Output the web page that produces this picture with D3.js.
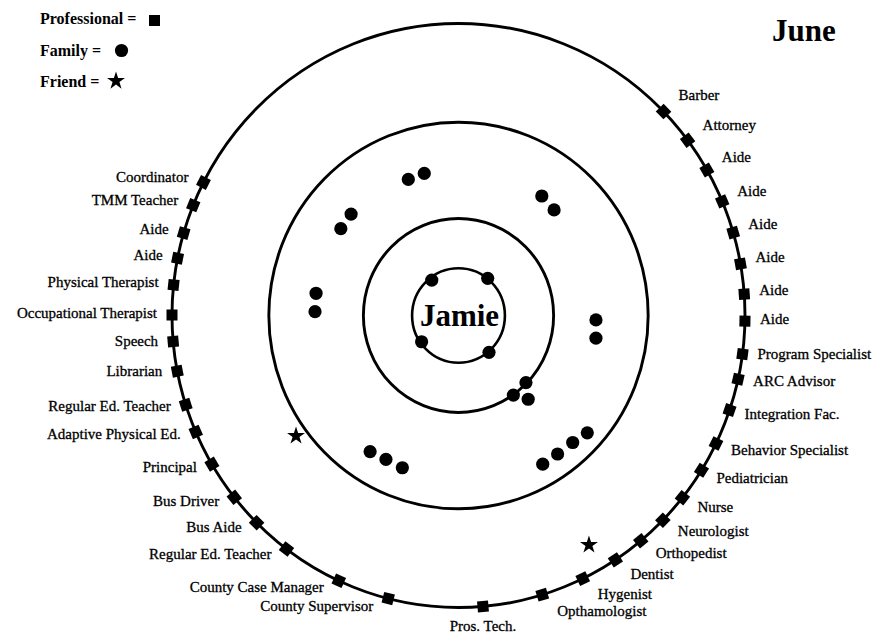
<!DOCTYPE html>
<html>
<head>
<meta charset="utf-8">
<script src="https://cdn.jsdelivr.net/npm/d3@7/dist/d3.min.js"></script>
<style>
  html, body { margin: 0; padding: 0; background: #fff; }
  svg { display: block; }
  text { font-family: "Liberation Serif", "Times New Roman", serif; fill: #000; }
</style>
</head>
<body>
<svg id="chart" width="875" height="633"></svg>
<script>
// ---------------- DATA ----------------
const title = "June";
const person = "Jamie";
const legendLabels = ["Professional =", "Family =", "Friend ="];
const ringRadii = [16.2, 33.2, 66.2, 100];

const professionalNames = [
  "Barber", "Attorney", "Aide", "Aide", "Aide", "Aide", "Aide", "Aide",
  "Program Specialist", "ARC Advisor", "Integration Fac.", "Behavior Specialist",
  "Pediatrician", "Nurse", "Neurologist", "Orthopedist", "Dentist", "Hygenist",
  "Opthamologist", "Pros. Tech.", "County Supervisor", "County Case Manager",
  "Regular Ed. Teacher", "Bus Aide", "Bus Driver", "Principal",
  "Adaptive Physical Ed.", "Regular Ed. Teacher", "Librarian", "Speech",
  "Occupational Therapist", "Physical Therapist", "Aide", "Aide",
  "TMM Teacher", "Coordinator"
];
const professionalAngles = [
  45.7, 53.1, 60.1, 67.0, 73.5, 79.8, 85.8, 91.1,
  97.6, 102.6, 108.9, 116.0,
  122.0, 128.6, 134.5, 140.5, 146.8, 154.3,
  163.0, 175.1, 194.2, 204.7,
  216.9, 224.8, 231.5, 239.4,
  246.5, 252.2, 259.0, 264.9,
  270.1, 276.0, 281.3, 286.4,
  292.2, 297.1
];

const familyAngles = [
  322.4, 38.7, 235.1, 139.8,
  134.3, 144.9, 139.7,
  339.4, 346.2, 35.4, 42.7, 312.8, 305.9, 278.7, 271.5, 91.8, 99.2,
  213.5, 207.2, 200.6, 150.0, 143.9, 137.5, 131.8
];
const familyRadii = [
  15.3, 16.3, 15.7, 16.5,
  32.9, 33.3, 37.6,
  49.8, 50.1, 50.2, 49.2, 51.1, 50.7, 50.3, 50.1, 48.0, 48.6,
  55.9, 55.4, 55.7, 58.8, 58.7, 59.0, 60.3
];

const friendAngles = [234.0, 149.9];
const friendRadii = [70.1, 90.8];

// ---------------- CHART ----------------
const svg = d3.select("#chart");
const x = d3.scaleLinear().domain([-100, 100]).range([172, 745]);
const y = d3.scaleLinear().domain([-100, 100]).range([607.5, 23.5]);
const rad = d => d * Math.PI / 180;
const px = (a, r) => x(r * Math.sin(rad(a)));
const py = (a, r) => y(r * Math.cos(rad(a)));

const starSym = d3.symbol().type(d3.symbolStar).size(100);

// rings
svg.append("g").selectAll("ellipse").data(ringRadii).join("ellipse")
  .attr("cx", x(0)).attr("cy", y(0))
  .attr("rx", d => x(d) - x(0))
  .attr("ry", d => y(0) - y(d))
  .attr("fill", "none").attr("stroke", "#000")
  .attr("stroke-width", (d, i) => i === 0 ? 2.6 : 2.9);

// professionals
const profData = professionalNames.map((n, i) => ({ name: n, angle: professionalAngles[i] }));
const pg = svg.append("g");
pg.selectAll("rect").data(profData).join("rect")
  .attr("x", -5.5).attr("y", -5.5).attr("width", 11).attr("height", 11)
  .attr("fill", "#000")
  .attr("transform", d => `translate(${px(d.angle, 100)},${py(d.angle, 100)}) rotate(${d.angle})`);

pg.selectAll("text").data(profData).join("text")
  .each(function (d) {
    const s = Math.sin(rad(d.angle)), c = Math.cos(rad(d.angle));
    const mx = px(d.angle, 100), my = py(d.angle, 100);
    let tx, ty, anchor;
    if (Math.abs(s) < 0.15) { anchor = "middle"; tx = mx; ty = my + 19; }
    else if (s > 0) { anchor = "start"; tx = mx + 15; ty = my - 20 * c - 3; }
    else { anchor = "end"; tx = mx - 15; ty = my - 9 * c - 2; }
    d3.select(this).attr("x", tx).attr("y", ty).attr("text-anchor", anchor);
  })
  .attr("dy", "0.35em")
  .attr("font-size", 15)
  .attr("stroke", "#000").attr("stroke-width", 0.3)
  .text(d => d.name);

// family
svg.append("g").selectAll("circle").data(familyAngles.map((a, i) => ({ a, r: familyRadii[i] }))).join("circle")
  .attr("cx", d => px(d.a, d.r)).attr("cy", d => py(d.a, d.r))
  .attr("r", 6.6).attr("fill", "#000");

// friends
svg.append("g").selectAll("path").data(friendAngles.map((a, i) => ({ a, r: friendRadii[i] }))).join("path")
  .attr("d", starSym)
  .attr("transform", d => `translate(${px(d.a, d.r)},${py(d.a, d.r)})`)
  .attr("fill", "#000");

// center label
svg.append("text").attr("x", x(0) + 1).attr("y", y(0)).attr("dy", "0.35em")
  .attr("text-anchor", "middle").attr("font-size", 31).attr("font-weight", "bold")
  .text(person);

// title
svg.append("text").attr("x", 772).attr("y", 41)
  .attr("font-size", 31).attr("font-weight", "bold").text(title);

// legend
const lg = svg.append("g");
const legendY = [18, 50, 81];
lg.selectAll("text").data(legendLabels).join("text")
  .attr("x", 40).attr("y", (d, i) => legendY[i]).attr("dy", "0.35em")
  .attr("font-size", 16).attr("font-weight", "bold")
  .text(d => d);
lg.append("rect").attr("x", 149).attr("y", 15).attr("width", 11).attr("height", 11).attr("fill", "#000");
lg.append("circle").attr("cx", 121.5).attr("cy", 50.5).attr("r", 6.6).attr("fill", "#000");
lg.append("path").attr("d", starSym).attr("transform", "translate(116,81)").attr("fill", "#000");
</script>
</body>
</html>
